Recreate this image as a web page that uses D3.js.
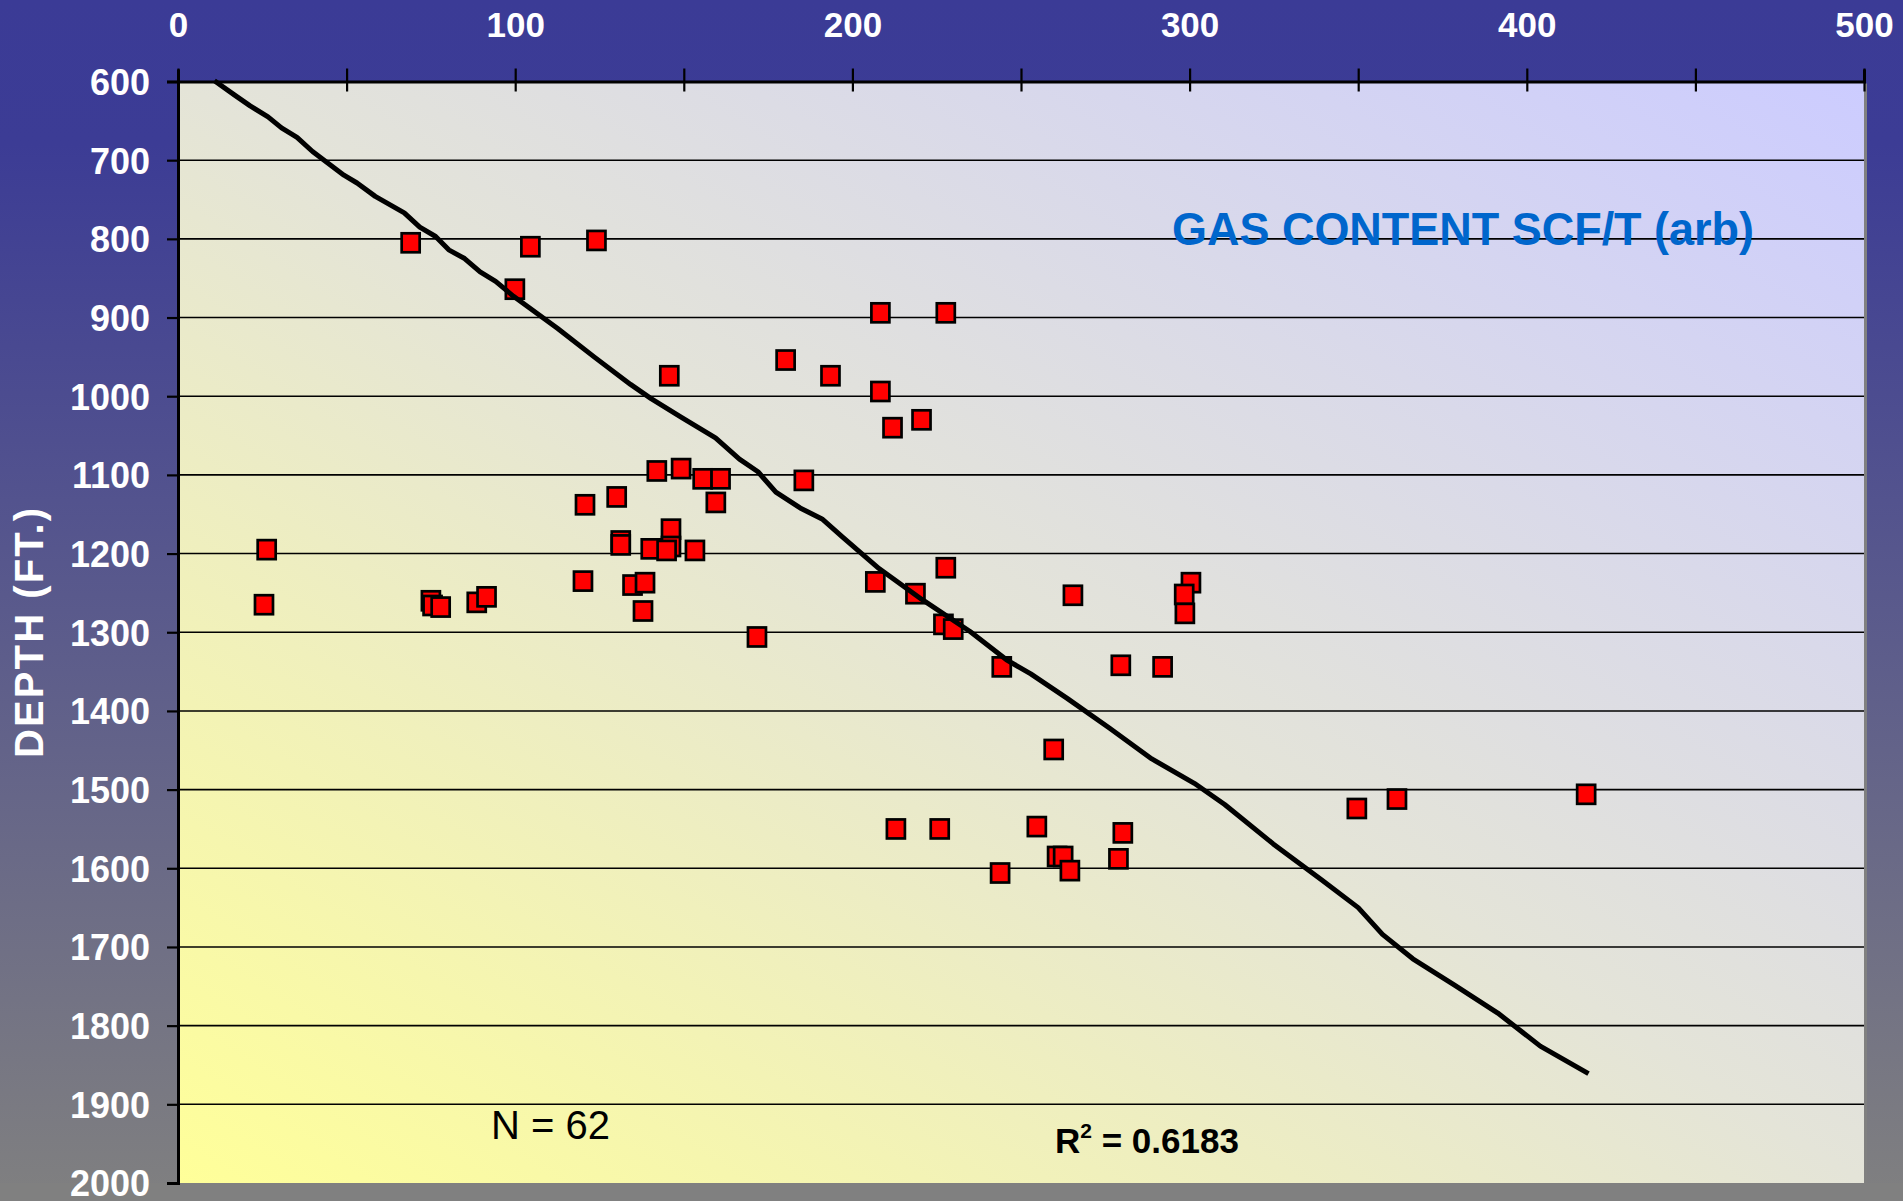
<!DOCTYPE html>
<html>
<head>
<meta charset="utf-8">
<script src="https://cdn.jsdelivr.net/npm/d3@7"></script>
<style>
  html, body { margin: 0; padding: 0; background: #808080; }
  svg { display: block; }
  text { font-family: "Liberation Sans", Arial, sans-serif; }
</style>
</head>
<body>
<div id="chart"></div>
<script>
// ---- data ----
const xTickValues = [0, 50, 100, 150, 200, 250, 300, 350, 400, 450, 500];
const xTickLabels = ["0", "", "100", "", "200", "", "300", "", "400", "", "500"];
const yTickValues = [600, 700, 800, 900, 1000, 1100, 1200, 1300, 1400, 1500, 1600, 1700, 1800, 1900, 2000];
const yTickLabels = ["600", "700", "800", "900", "1000", "1100", "1200", "1300", "1400", "1500", "1600", "1700", "1800", "1900", "2000"];

const gasContent = [
  69, 104.5, 124.1, 99.9, 208.3, 227.7, 145.7, 180.2, 193.5, 208.3,
  211.9, 220.5, 185.6, 149.2, 142.0, 155.6, 160.9, 130.1, 120.7, 159.5,
  146.2, 131.3, 131.3, 140.2, 146.2, 144.9, 153.3, 26.3, 25.5, 75.0,
  75.5, 77.9, 88.6, 91.5, 120.1, 134.8, 138.5, 137.9, 171.7, 206.8,
  218.7, 227.7, 227.0, 229.9, 265.4, 300.4, 298.4, 298.6, 244.3, 279.6,
  292.0, 259.7, 212.9, 225.9, 254.7, 280.2, 260.7, 262.5, 264.5, 243.8,
  278.9, 349.6, 361.5, 417.6
];
const depth = [
  805, 810, 802, 864, 894, 894, 974, 954, 974, 994,
  1040, 1030, 1107, 1092, 1095, 1105, 1105, 1128, 1138, 1135,
  1169, 1184, 1189, 1194, 1191, 1196, 1196, 1195, 1265, 1260,
  1266, 1268, 1262, 1255, 1235, 1240, 1237, 1273, 1306, 1236,
  1251, 1218, 1290, 1296, 1253, 1237, 1252, 1276, 1344, 1342,
  1344, 1449, 1550, 1550, 1547, 1555, 1585, 1585, 1603, 1606,
  1588, 1524, 1512, 1506
];

const trendGas = [
  10.8, 16.7, 21.4, 26.7, 30.7, 35.3, 39.9, 49.2, 53.1, 58.5,
  67.1, 71.7, 76.4, 80.3, 85.0, 89.6, 94.2, 99.5, 112.6, 123.4,
  134.2, 140.3, 149.3, 159.4, 166.5, 172.0, 177.3, 184.5, 191.0, 197.1,
  207.9, 220.5, 234.9, 245.7, 252.9, 263.7, 276.3, 288.8, 301.4, 310.4,
  324.8, 339.2, 350.0, 357.2, 366.2, 378.8, 391.4, 404.0, 418.3
];
const trendDepth = [
  599, 617, 631, 645, 659, 671, 689, 719, 729, 746,
  767, 785, 797, 814, 825, 842, 854, 873, 914, 950,
  985, 1003, 1027, 1053, 1080, 1096, 1122, 1142, 1156, 1179,
  1219, 1258, 1299, 1335, 1353, 1384, 1422, 1461, 1492, 1519,
  1569, 1615, 1650, 1684, 1715, 1749, 1784, 1826, 1861
];

// ---- layout ----
const W = 1903, H = 1201;
const svg = d3.select("#chart").append("svg").attr("width", W).attr("height", H);
const defs = svg.append("defs");

const og = defs.append("linearGradient").attr("id", "outerGrad")
  .attr("x1", 0).attr("y1", 0).attr("x2", 0).attr("y2", 1);
og.append("stop").attr("offset", "0").attr("stop-color", "#3b3b96");
og.append("stop").attr("offset", "0.12").attr("stop-color", "#3c3c95");
og.append("stop").attr("offset", "1").attr("stop-color", "#808080");

const pg = defs.append("linearGradient").attr("id", "plotGrad")
  .attr("x1", 0).attr("y1", 1).attr("x2", 1).attr("y2", 0);
pg.append("stop").attr("offset", "0").attr("stop-color", "#ffff99");
pg.append("stop").attr("offset", "0.5").attr("stop-color", "#e4e4d8");
pg.append("stop").attr("offset", "1").attr("stop-color", "#ccccff");

svg.append("rect").attr("width", W).attr("height", H).attr("fill", "url(#outerGrad)");

const x = d3.scaleLinear().domain([0, 500]).range([178, 1864]);
const y = d3.scaleLinear().domain([600, 2000]).range([81.5, 1183]);

// plot area
svg.append("rect")
  .attr("x", x(0)).attr("y", y(600))
  .attr("width", x(500) - x(0)).attr("height", y(2000) - y(600))
  .attr("fill", "url(#plotGrad)");
// bottom grey band and right grey edge
svg.append("rect").attr("x", 0).attr("y", y(2000)).attr("width", W).attr("height", H - y(2000)).attr("fill", "#808080");
svg.append("line").attr("x1", x(500) + 1.5).attr("x2", x(500) + 1.5)
  .attr("y1", y(600) + 2).attr("y2", y(2000)).attr("stroke", "#808080").attr("stroke-width", 3);

// gridlines
svg.append("g").selectAll("line")
  .data(yTickValues.filter(v => v > 600 && v < 2000))
  .join("line")
  .attr("x1", x(0)).attr("x2", x(500))
  .attr("y1", d => y(d)).attr("y2", d => y(d))
  .attr("stroke", "#000").attr("stroke-width", 1.6);

// top axis
const topAxis = svg.append("g").attr("transform", `translate(0,${y(600)})`)
  .call(d3.axisTop(x).tickValues(xTickValues)
    .tickFormat((d, i) => xTickLabels[i]).tickSizeOuter(0).tickSize(12).tickPadding(8));
topAxis.select(".domain").attr("stroke", "#000").attr("stroke-width", 3);
topAxis.selectAll(".tick line").attr("stroke", "#000").attr("stroke-width", 2.2)
  .attr("y1", 10).attr("y2", -13);
topAxis.selectAll(".tick text")
  .attr("fill", "#fff").attr("font-size", 35).attr("font-weight", "bold")
  .attr("y", -44.5).attr("dy", 0)
  .style("font-family", '"Liberation Sans", Arial, sans-serif');

// left axis
const leftAxis = svg.append("g").attr("transform", `translate(${x(0)},0)`)
  .call(d3.axisLeft(y).tickValues(yTickValues)
    .tickFormat((d, i) => yTickLabels[i]).tickSizeOuter(0).tickSize(11).tickPadding(17));
leftAxis.select(".domain").attr("stroke", "#000").attr("stroke-width", 3);
leftAxis.selectAll(".tick line").attr("stroke", "#000").attr("stroke-width", 2.2);
leftAxis.selectAll(".tick text")
  .attr("fill", "#fff").attr("font-size", 36).attr("font-weight", "bold")
  .attr("dy", "0.36em")
  .style("font-family", '"Liberation Sans", Arial, sans-serif');

// points
const pts = gasContent.map((g, i) => ({ g, d: depth[i] }));
svg.append("g").selectAll("rect")
  .data(pts).join("rect")
  .attr("x", p => x(p.g) - 9).attr("y", p => y(p.d) - 9.5)
  .attr("width", 18).attr("height", 19)
  .attr("fill", "#ff0000").attr("stroke", "#000").attr("stroke-width", 2.7);

// trend line
const trend = trendGas.map((g, i) => ({ g, d: trendDepth[i] }));
svg.append("path").datum(trend)
  .attr("d", d3.line().x(p => x(p.g)).y(p => y(p.d)))
  .attr("fill", "none").attr("stroke", "#000").attr("stroke-width", 5)
  .attr("stroke-linejoin", "round");

// y-axis title
svg.append("text")
  .attr("transform", "translate(43,633) rotate(-90)")
  .attr("text-anchor", "middle")
  .attr("fill", "#fff").attr("font-size", 40).attr("font-weight", "bold")
  .attr("textLength", 250).attr("lengthAdjust", "spacing")
  .text("DEPTH (FT.)");

// series title
svg.append("text")
  .attr("x", 1172).attr("y", 245)
  .attr("fill", "#0066cc").attr("font-size", 46).attr("font-weight", "bold")
  .attr("textLength", 582).attr("lengthAdjust", "spacingAndGlyphs")
  .text("GAS CONTENT SCF/T (arb)");

// N label
svg.append("text")
  .attr("x", 491).attr("y", 1139)
  .attr("fill", "#000").attr("font-size", 40)
  .text("N = 62");

// R^2 label
const r2 = svg.append("text")
  .attr("x", 1055).attr("y", 1152.5)
  .attr("fill", "#000").attr("font-size", 35).attr("font-weight", "bold");
r2.append("tspan").text("R");
r2.append("tspan").attr("font-size", 21).attr("dy", -15).text("2");
r2.append("tspan").attr("dy", 15).text(" = 0.6183");
</script>
</body>
</html>
